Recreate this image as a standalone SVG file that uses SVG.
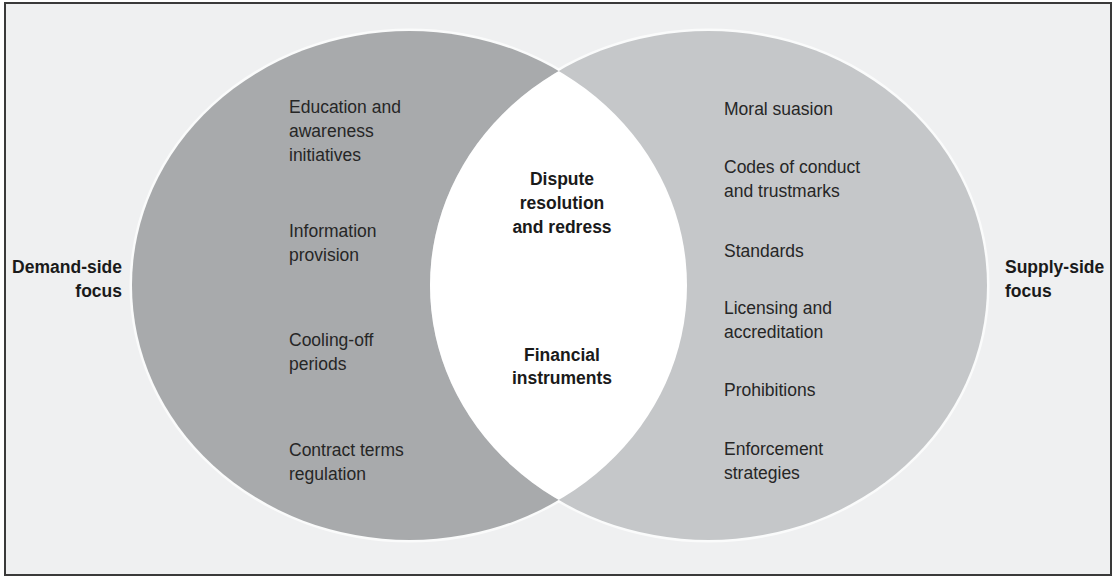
<svg xmlns="http://www.w3.org/2000/svg" width="1114" height="577" viewBox="0 0 1114 577">
  <style>
    .item { font-family: "Liberation Sans", Arial, sans-serif; font-size: 17.5px; fill: #262626; }
    .bold { font-family: "Liberation Sans", Arial, sans-serif; font-size: 17.5px; font-weight: bold; fill: #1a1a1a; }
    .halo { fill: none; stroke: #ffffff; stroke-width: 5; stroke-opacity: 0.7; }
  </style>
  <defs>
    <clipPath id="leftClip">
      <ellipse cx="409.5" cy="285.5" rx="277.5" ry="254.5"/>
    </clipPath>
  </defs>

  <g id="frame">
    <rect x="5" y="3" width="1106" height="572" fill="#eff0f1" stroke="#3a3a3a" stroke-width="2"/>
  </g>

  <g id="halos">
    <ellipse class="halo" cx="409.5" cy="285.5" rx="277.5" ry="254.5"/>
    <ellipse class="halo" cx="708.5" cy="285.5" rx="278.5" ry="254.5"/>
  </g>

  <g id="demand-circle">
    <ellipse cx="409.5" cy="285.5" rx="277.5" ry="254.5" fill="#a8aaac"/>
  </g>
  <g id="supply-circle">
    <ellipse cx="708.5" cy="285.5" rx="278.5" ry="254.5" fill="#c5c7c9"/>
  </g>
  <g id="overlap">
    <ellipse cx="708.5" cy="285.5" rx="278.5" ry="254.5" fill="#ffffff" clip-path="url(#leftClip)"/>
  </g>

  <g id="demand-label">
    <text class="bold" text-anchor="end" x="122" y="273">Demand-side</text>
    <text class="bold" text-anchor="end" x="122" y="297">focus</text>
  </g>
  <g id="supply-label">
    <text class="bold" x="1005" y="273">Supply-side</text>
    <text class="bold" x="1005" y="297">focus</text>
  </g>

  <g id="education">
    <text class="item" x="289" y="113">Education and</text>
    <text class="item" x="289" y="137">awareness</text>
    <text class="item" x="289" y="161">initiatives</text>
  </g>
  <g id="information">
    <text class="item" x="289" y="237">Information</text>
    <text class="item" x="289" y="261">provision</text>
  </g>
  <g id="cooling">
    <text class="item" x="289" y="346">Cooling-off</text>
    <text class="item" x="289" y="370">periods</text>
  </g>
  <g id="contract">
    <text class="item" x="289" y="456">Contract terms</text>
    <text class="item" x="289" y="480">regulation</text>
  </g>

  <g id="dispute">
    <text class="bold" text-anchor="middle" x="562" y="185">Dispute</text>
    <text class="bold" text-anchor="middle" x="562" y="209">resolution</text>
    <text class="bold" text-anchor="middle" x="562" y="233">and redress</text>
  </g>
  <g id="financial">
    <text class="bold" text-anchor="middle" x="562" y="361">Financial</text>
    <text class="bold" text-anchor="middle" x="562" y="384">instruments</text>
  </g>

  <g id="moral">
    <text class="item" x="724" y="115">Moral suasion</text>
  </g>
  <g id="codes">
    <text class="item" x="724" y="173">Codes of conduct</text>
    <text class="item" x="724" y="197">and trustmarks</text>
  </g>
  <g id="standards">
    <text class="item" x="724" y="257">Standards</text>
  </g>
  <g id="licensing">
    <text class="item" x="724" y="314">Licensing and</text>
    <text class="item" x="724" y="338">accreditation</text>
  </g>
  <g id="prohibitions">
    <text class="item" x="724" y="396">Prohibitions</text>
  </g>
  <g id="enforcement">
    <text class="item" x="724" y="455">Enforcement</text>
    <text class="item" x="724" y="479">strategies</text>
  </g>

  <g id="connectors"></g>
</svg>
